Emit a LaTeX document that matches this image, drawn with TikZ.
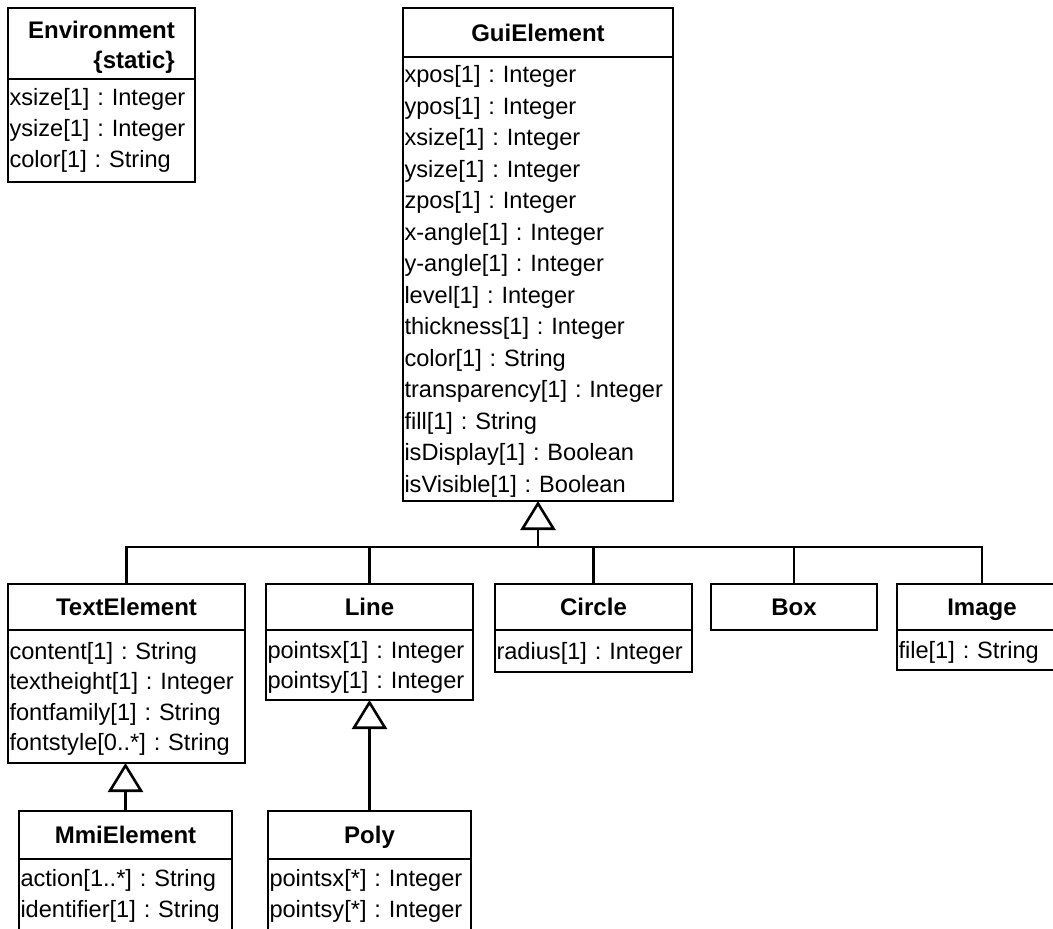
\documentclass[tikz,border=0pt]{standalone}
\usepackage{fontspec}
\setmainfont{Liberation Sans}
\usetikzlibrary{arrows.meta}
\frenchspacing
\begin{document}
\hyphenpenalty=10000
\exhyphenpenalty=10000
\begin{tikzpicture}[x=1pt,y=-1pt,
  every node/.style={outer sep=0pt},
  box/.style={draw, line width=2.6pt, anchor=north west, inner sep=0pt},
  hdr/.style={box, font=\fontsize{24}{30}\selectfont\bfseries, align=center},
  hdrone/.style={hdr, text height=20pt, text depth=2.8pt},
  attrbase/.style={box, font=\fontsize{23.6}{31}\selectfont, inner xsep=1.5pt, align=left},
  attr/.style={attrbase, execute at begin node={\rule{0pt}{22pt}}},
  wire/.style={line width=2.6pt},
  gen/.style={wire, -{Triangle[open, length=29pt, width=35pt]}}
]
\useasboundingbox (0,0) rectangle (1053,929);
\clip (0,0) rectangle (1053,929);

% Environment (static class, two-line header)
\node[hdr, align=right, minimum width=187pt, minimum height=71pt] (env) at (8,8)
  {\rule{0pt}{25.5pt}Environment\\\{static\}};
\node[attrbase, text width=184pt, minimum height=103pt] (envA) at (8,79)
  {xsize[1] : Integer\\ysize[1] : Integer\\color[1] : String};

% GuiElement
\node[hdrone, minimum width=270pt, minimum height=49pt] (gui) at (403,8) {GuiElement};
\node[attr, font=\fontsize{23.6}{31.5}\selectfont,
  text width=267pt, minimum height=444pt] (guiA) at (403,57)
  {xpos[1] : Integer\\ypos[1] : Integer\\xsize[1] : Integer\\ysize[1] : Integer\\
   zpos[1] : Integer\\x-angle[1] : Integer\\y-angle[1] : Integer\\level[1] : Integer\\
   thickness[1] : Integer\\color[1] : String\\transparency[1] : Integer\\fill[1] : String\\
   isDisplay[1] : Boolean\\isVisible[1] : Boolean};

% TextElement
\node[hdrone, minimum width=237pt, minimum height=46pt] (te) at (8,584) {TextElement};
\node[attr, font=\fontsize{23.6}{30.3}\selectfont,
  text width=234pt, minimum height=133pt] (teA) at (8,630)
  {content[1] : String\\textheight[1] : Integer\\fontfamily[1] : String\\fontstyle[0..*] : String};

% Line
\node[hdrone, minimum width=207pt, minimum height=46pt] (ln) at (266,584) {Line};
\node[attr, font=\fontsize{23.6}{30}\selectfont,
  text width=204pt, minimum height=70pt] (lnA) at (266,630)
  {pointsx[1] : Integer\\pointsy[1] : Integer};

% Circle
\node[hdrone, minimum width=197pt, minimum height=46pt] (ci) at (495,584) {Circle};
\node[attr, text width=194pt, minimum height=42pt] (ciA) at (495,630) {radius[1] : Integer};

% Box
\node[hdrone, minimum width=166pt, minimum height=46pt] (bx) at (711,584) {Box};

% Image
\node[hdrone, minimum width=170pt, minimum height=46pt] (img) at (897,584) {Image};
\node[attr, text width=167pt, minimum height=40pt] (imgA) at (897,630) {file[1] : String};

% MmiElement
\node[hdrone, minimum width=213pt, minimum height=48pt] (mmi) at (19,811) {MmiElement};
\node[attrbase, text width=210pt, minimum height=74pt] (mmiA) at (19,859)
  {action[1..*] : String\\identifier[1] : String};

% Poly
\node[hdrone, minimum width=203pt, minimum height=48pt] (poly) at (268,811) {Poly};
\node[attrbase, text width=200pt, minimum height=74pt] (polyA) at (268,859)
  {pointsx[*] : Integer\\pointsy[*] : Integer};

% Generalisation tree below GuiElement
\coordinate (jn) at (538,547);
\draw[gen] (jn) -- (guiA.south);
\draw[wire] (te.north) -- (te.north |- jn) -- (img.north |- jn) -- (img.north);
\draw[wire] (ln.north) -- (ln.north |- jn);
\draw[wire] (ci.north) -- (ci.north |- jn);
\draw[wire] (bx.north) -- (bx.north |- jn);

% Single generalisations
\draw[gen] (poly.north) -- (lnA.south);
\draw[gen] (mmi.north) -- (mmi.north |- teA.south);
\end{tikzpicture}
\end{document}
